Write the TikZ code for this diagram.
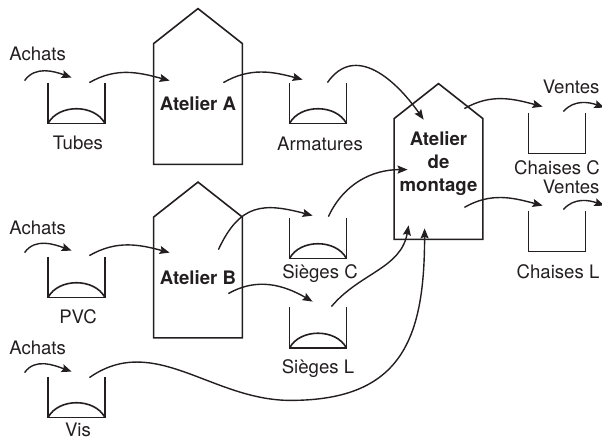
\documentclass[tikz,border=0pt]{standalone}
\usepackage{fontspec}
\setmainfont{TeX Gyre Heros}
\usetikzlibrary{arrows.meta,calc,positioning}
\definecolor{encre}{RGB}{35,31,32}

\begin{document}
\begin{tikzpicture}[
  x=0.5pt,y=0.5pt,
  font=\fontsize{9.3}{11.5}\selectfont,
  trait/.style={draw=encre, line width=0.8pt},
  flux/.style={-{Stealth[length=5pt,width=4pt,inset=0.8pt]}, draw=encre,
               line width=0.7pt},
  stock/.style={minimum width=28pt, minimum height=20pt, inner sep=0pt,
    append after command={\pgfextra{
      \draw[trait] (\tikzlastnode.north west) |- (\tikzlastnode.south east)
        -- (\tikzlastnode.north east);}}},
  vrac/.style={stock,
    append after command={\pgfextra{
      \draw[trait] (\tikzlastnode.south west) to[out=62,in=118]
        (\tikzlastnode.south east);}}},
  titre/.style={font=\fontsize{9.3}{11.5}\selectfont\bfseries, text=encre,
                align=center},
  atelier/.style={titre, minimum width=44pt, minimum height=60pt,
    inner sep=0pt,
    append after command={\pgfextra{
      \draw[trait] (\tikzlastnode.north west)
        -- ([yshift=17.5pt]\tikzlastnode.north)
        -- (\tikzlastnode.north east) -- (\tikzlastnode.south east)
        -- (\tikzlastnode.south west) -- cycle;}}},
  etiq/.style={anchor=base, inner sep=0pt, text=encre}
]
\useasboundingbox (0,0) rectangle (602,439);

% Purchased stocks on the left.
\node[vrac] (tubes) at (76.5,336) {};
\node[vrac] (pvc) at (76.5,162) {};
\node[vrac] (vis) at (76.5,42) {};
\node[etiq] (lTubes) at ($(tubes.south)+(1.5,-26.5)$) {Tubes};
\node[etiq] (lPvc) at ($(pvc.south)+(1.5,-26.5)$) {PVC};
\node[etiq] (lVis) at ($(vis.south)+(1.5,-19.5)$) {Vis};
\node[etiq] (achatsA) at ($(tubes.north west)+(-10.5,22.5)$) {Achats};
\node[etiq] (achatsB) at ($(pvc.north west)+(-10.5,22.5)$) {Achats};
\node[etiq] (achatsV) at ($(vis.north west)+(-10.5,22.5)$) {Achats};

% Workshops.
\node[atelier] (ateA) at (198,335) {Atelier A};
\node[atelier] (ateB) at (198,161.5) {Atelier B};
\node[atelier, label={[titre, yshift=7.5pt]center:Atelier\\de\\montage}]
  (montage) at (438.5,260) {};

% Intermediate and finished stocks.
\node[vrac] (armat) at (318,336) {};
\node[vrac] (siegesC) at (318,201) {};
\node[vrac] (siegesL) at (318,111.5) {};
\node[stock] (chaisesC) at (557,306) {};
\node[stock] (chaisesL) at (557,208) {};
\node[etiq] (lArmat) at ($(armat.south)+(2,-27.5)$) {Armatures};
\node[etiq] (lSiegesC) at ($(siegesC.south)+(2,-20.5)$) {Sièges C};
\node[etiq] (lSiegesL) at ($(siegesL.south)+(0,-26)$) {Sièges L};
\node[etiq] (lChaisesC) at ($(chaisesC.south)+(0,-21.5)$) {Chaises C};
\node[etiq] (lChaisesL) at ($(chaisesL.south)+(1,-27.5)$) {Chaises L};
\node[etiq, anchor=base west] (ventesC)
  at ($(chaisesC.north east)+(-43,19.5)$) {Ventes};
\node[etiq, anchor=base west] (ventesL)
  at ($(chaisesL.north east)+(-43,17.5)$) {Ventes};

% Free ends of the purchase and sales flows.
\coordinate (inA) at ($(tubes.north west)+(-23.5,2)$);
\coordinate (inB) at ($(pvc.north west)+(-23.5,4)$);
\coordinate (inV) at ($(vis.north west)+(-23.5,4)$);
\coordinate (outC) at ($(chaisesC.north east)+(19,5)$);
\coordinate (outL) at ($(chaisesL.north east)+(19,5)$);
\coordinate (creux) at ($(vis.south east)+(185.5,17)$);

% Line A: tubes to frames.
\draw[flux] (inA) to[out=55,in=160] ($(tubes.north west)+(23.5,5)$);
\draw[flux] ($(tubes.north east)+(-15.5,0)$) to[out=30,in=165]
  ($(ateA.north west)+(16,-37)$);
\draw[flux] ($(ateA.north east)+(-19,-39)$) to[out=30,in=165]
  ($(armat.north west)+(13,3)$);
\draw[flux] ($(armat.north east)+(-19,0)$) to[out=55,in=125,looseness=1.2]
  ($(montage.north west)+(29.5,-1)$);

% Line B: PVC to seats.
\draw[flux] (inB) to[out=55,in=160] ($(pvc.north west)+(23.5,6)$);
\draw[flux] ($(pvc.north east)+(-15.5,1)$) to[out=30,in=165]
  ($(ateB.north west)+(16,-35.5)$);
\draw[flux] ($(ateB.north east)+(-24,-32.5)$)
  to[out=65,in=165,looseness=1.3] ($(siegesC.north west)+(23,2)$);
\draw[flux] ($(ateB.north east)+(-14,-76.5)$) to[out=30,in=150]
  ($(siegesL.north west)+(23,5.5)$);
\draw[flux] ($(siegesC.north east)+(-18,1)$) to[out=65,in=180]
  ($(montage.north west)+(13.5,-51)$);
\draw[flux] ($(siegesL.north east)+(-15,0.5)$) to[out=50,in=-100]
  ($(montage.south west)+(14.5,14)$);

% Screws go straight to assembly.
\draw[flux] (inV) to[out=55,in=160] ($(vis.north west)+(23.5,5)$);
\draw[flux] ($(vis.north east)+(-15.5,-1)$) to[out=35,in=180] (creux)
  to[out=0,in=-90,looseness=1.3] ($(montage.south west)+(30.5,11)$);

% Assembly to finished chairs and sales.
\draw[flux] ($(montage.north east)+(-18.5,10)$) to[out=30,in=165]
  ($(chaisesC.north west)+(14,6)$);
\draw[flux] ($(montage.south east)+(-18.5,32)$) to[out=30,in=165]
  ($(chaisesL.north west)+(14,5)$);
\draw[flux] ($(chaisesC.north east)+(-22,1)$) to[out=50,in=160] (outC);
\draw[flux] ($(chaisesL.north east)+(-22,1)$) to[out=50,in=160] (outL);

\end{tikzpicture}
\end{document}
